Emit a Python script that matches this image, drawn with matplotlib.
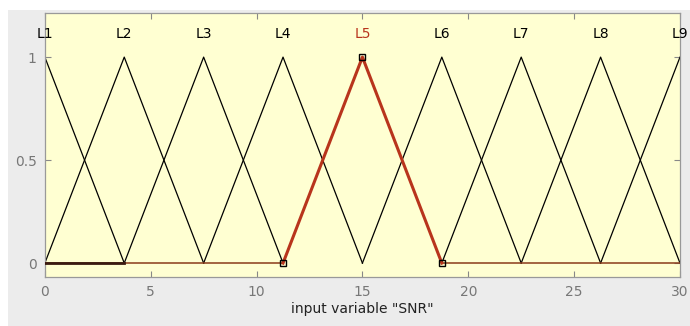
import numpy as np
import matplotlib.pyplot as plt
import matplotlib.patches as patches

labels = ['L1', 'L2', 'L3', 'L4', 'L5', 'L6', 'L7', 'L8', 'L9']
centers = [0, 3.75, 7.5, 11.25, 15, 18.75, 22.5, 26.25, 30]
halfwidth = 3.75
selected = 'L5'
xticks = [0, 5, 10, 15, 20, 25, 30]
yticks = [0, 0.5, 1]

fig = plt.figure(figsize=(6.9, 3.26), dpi=100, facecolor='#ececec')
# white strip along top and left edge of the screenshot
fig.patches.append(patches.Rectangle((0, 0.97), 1, 0.03, transform=fig.transFigure,
                                     facecolor='white', edgecolor='none', zorder=-1))
fig.patches.append(patches.Rectangle((0, 0), 0.012, 1, transform=fig.transFigure,
                                     facecolor='white', edgecolor='none', zorder=-1))

ax = fig.add_axes([0.065, 0.150, 0.9205, 0.810])
ax.set_facecolor('#ffffd2')

red = '#b8341c'
for name, c in zip(labels, centers):
    xs = [0, max(c - halfwidth, 0), c, min(c + halfwidth, 30), 30]
    ys = [max(0, 1 - abs(x - c) / halfwidth) for x in xs]
    if name == selected:
        # thin red baseline outside the support, thick red triangle
        ax.plot(xs[:2], ys[:2], color='#8a3a1a', lw=1.1, zorder=3)
        ax.plot(xs[3:], ys[3:], color='#8a3a1a', lw=1.1, zorder=3)
        ax.plot(xs[1:4], ys[1:4], color=red, lw=2.2, zorder=3)
        ax.plot(xs[1:4], ys[1:4], ls='none', marker='s', ms=5, mfc='none',
                mec='black', mew=1, zorder=4)
        ax.text(c, 1.11, name, ha='center', va='center', fontsize=10, color=red)
    else:
        ax.plot(xs[1:4], ys[1:4], color='black', lw=0.9, zorder=2)
        ax.text(c, 1.11, name, ha='center', va='center', fontsize=10, color='black')

ax.plot([0, 3.75], [0, 0], color='#3a1a10', lw=2, zorder=5)

ax.set_xlim(0, 30)
ax.set_ylim(-0.068, 1.214)
ax.set_xticks(xticks)
ax.set_yticks(yticks)
ax.set_yticklabels(['0', '0.5', '1'])
ax.tick_params(direction='in', length=4, width=0.8, colors='#888888', labelcolor='#777777',
               labelsize=10, top=True, right=True, pad=6)
for s in ax.spines.values():
    s.set_color('#999999')
    s.set_linewidth(0.9)
ax.set_xlabel('input variable "SNR"', fontsize=10, color='#222222', labelpad=2)

fig.savefig('out.png', dpi=100, facecolor=fig.get_facecolor())
